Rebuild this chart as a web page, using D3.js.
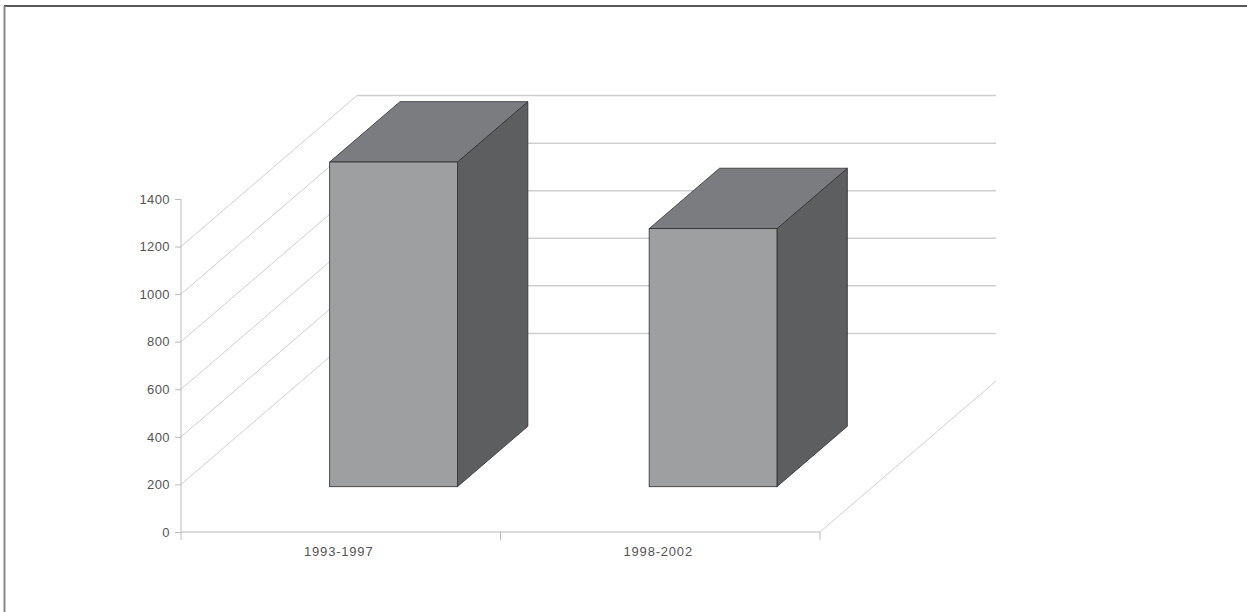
<!DOCTYPE html>
<html>
<head>
<meta charset="utf-8">
<script src="https://cdn.jsdelivr.net/npm/d3@7"></script>
<style>
  html, body { margin: 0; padding: 0; background: #fff; }
  svg { display: block; }
</style>
</head>
<body>
<svg id="chart" width="1247" height="612"></svg>
<script>
// ---- data ----
const categories = ["1993-1997", "1998-2002"];
const values = [1365, 1085];
const yTicks = [0, 200, 400, 600, 800, 1000, 1200, 1400];
const wallValues = [200, 400, 600, 800, 1000, 1200];

// ---- layout ----
const W = 1247, H = 612;
const svg = d3.select("#chart");

// frame
svg.append("line").attr("x1", 4).attr("x2", W).attr("y1", 6).attr("y2", 6)
  .attr("stroke", "#222").attr("stroke-width", 1.5);
svg.append("line").attr("x1", 4.5).attr("x2", 4.5).attr("y1", 6).attr("y2", H)
  .attr("stroke", "#888").attr("stroke-width", 2);

const x0 = 181, x1 = 820;
const y = d3.scaleLinear().domain([0, 1400]).range([532, 199]);
const x = d3.scaleBand().domain(categories).range([x0, x1]);
const depth = { dx: 176, dy: -151 };
const gridColor = "#cfcfcf";

const g = svg.append("g");

// back wall gridlines and side-wall diagonals
wallValues.forEach(v => {
  const yy = y(v);
  g.append("line")
    .attr("x1", x0).attr("y1", yy)
    .attr("x2", x0 + depth.dx).attr("y2", yy + depth.dy)
    .attr("stroke", gridColor).attr("stroke-width", 1);
  g.append("line")
    .attr("x1", x0 + depth.dx).attr("y1", yy + depth.dy)
    .attr("x2", x1 + depth.dx).attr("y2", yy + depth.dy)
    .attr("stroke", gridColor).attr("stroke-width", 1.5);
});

// floor
g.append("line").attr("x1", x0).attr("y1", y(0)).attr("x2", x1).attr("y2", y(0))
  .attr("stroke", gridColor).attr("stroke-width", 1.5);
g.append("line").attr("x1", x1).attr("y1", y(0)).attr("x2", x1 + depth.dx).attr("y2", y(0) + depth.dy)
  .attr("stroke", gridColor).attr("stroke-width", 1);

// y axis
const yAxis = d3.axisLeft(y).tickValues(yTicks).tickSize(6).tickPadding(5).tickFormat(d3.format("d"));
const ya = svg.append("g").attr("transform", `translate(${x0},0)`).call(yAxis);
ya.select(".domain").remove();
ya.selectAll(".tick line").attr("stroke", "#bbb");
ya.selectAll(".tick text").attr("fill", "#555")
  .style("font-family", "'Liberation Sans', Arial, sans-serif").style("font-size", "13px")
  .style("letter-spacing", "0.4px");
svg.append("line").attr("x1", x0).attr("x2", x0).attr("y1", y(1400)).attr("y2", y(0) + 8)
  .attr("stroke", "#bbb").attr("stroke-width", 1);

// x axis ticks and labels
const xa = svg.append("g");
[x0 + x.bandwidth(), x1].forEach(px => {
  xa.append("line").attr("x1", px).attr("x2", px).attr("y1", y(0)).attr("y2", y(0) + 8)
    .attr("stroke", "#bbb");
});
xa.selectAll("text.cat").data(categories).enter().append("text")
  .attr("class", "cat")
  .attr("x", d => x(d) + x.bandwidth() / 2 - 2)
  .attr("y", y(0) + 24)
  .attr("text-anchor", "middle")
  .attr("fill", "#555")
  .style("font-family", "'Liberation Sans', Arial, sans-serif").style("font-size", "13px")
  .style("letter-spacing", "0.8px")
  .text(d => d);

// 3D bars
const f0 = 0.3, f1 = 0.7, barFrac = 0.4;
const bars = svg.append("g");
categories.forEach((c, i) => {
  const v = values[i];
  const cx = x(c) + x.bandwidth() / 2;
  const bw = x.bandwidth() * barFrac;
  const ox = depth.dx * f0, oy = depth.dy * f0;
  const ddx = depth.dx * (f1 - f0), ddy = depth.dy * (f1 - f0);
  const L = cx - bw / 2 + ox, R = cx + bw / 2 + ox;
  const B = y(0) + oy, T = y(v) + oy;
  const stroke = "#2e2e2e";
  // side face
  bars.append("path")
    .attr("d", `M${R},${B} L${R + ddx},${B + ddy} L${R + ddx},${T + ddy} L${R},${T} Z`)
    .attr("fill", "#5d5e60").attr("stroke", stroke).attr("stroke-width", 0.8);
  // top face
  bars.append("path")
    .attr("d", `M${L},${T} L${R},${T} L${R + ddx},${T + ddy} L${L + ddx},${T + ddy} Z`)
    .attr("fill", "#7b7c7f").attr("stroke", stroke).attr("stroke-width", 0.8);
  // front face
  bars.append("rect")
    .attr("x", L).attr("y", T).attr("width", R - L).attr("height", B - T)
    .attr("fill", "#9e9fa1").attr("stroke", stroke).attr("stroke-width", 0.8);
});
</script>
</body>
</html>
